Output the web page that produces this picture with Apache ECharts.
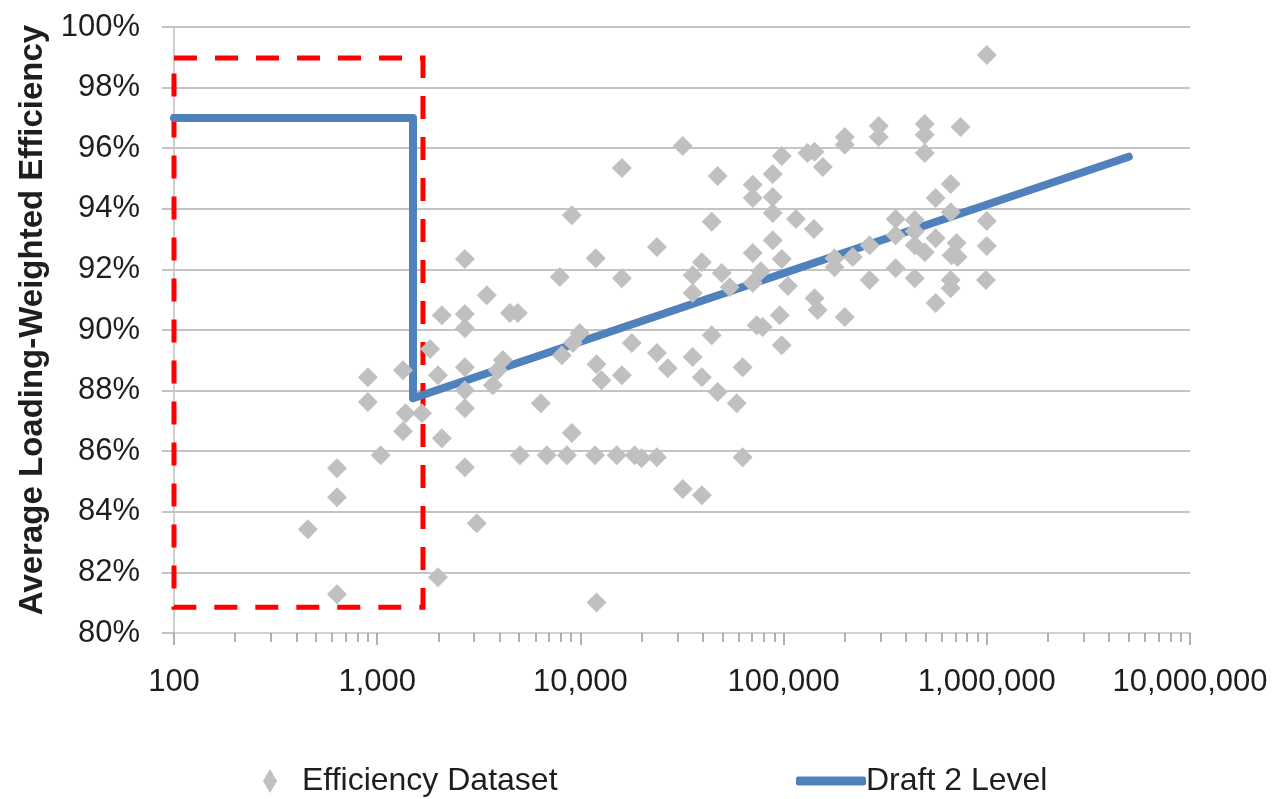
<!DOCTYPE html>
<html>
<head>
<meta charset="utf-8">
<script src="https://cdn.jsdelivr.net/npm/echarts@6/dist/echarts.min.js"></script>
<style>
html, body { margin: 0; padding: 0; background: #fff; }
#main { width: 1277px; height: 799px; }
</style>
</head>
<body>
<div id="main"></div>
<script>
// efficiency dataset: load (x, log scale) and average loading-weighted efficiency (%)
var effLoad = [
    456, 634, 634, 634, 900, 900, 1040, 1340, 1380, 1340,
    1660, 1820, 1990, 2080, 2080, 1990, 2700, 2700, 2700, 2700,
    2700, 2700, 2700, 3090, 3460, 3710, 3920, 4150, 4500, 4920,
    5040, 6390, 6830, 7920, 8100, 8580, 9070, 9070, 9180, 9930,
    11800, 11900, 12000, 12000, 12700, 15100, 16000, 16000, 16000, 17900,
    18500, 20000, 23800, 23800, 23800, 26900, 31900, 31900, 35700, 35700,
    35700, 39600, 39600, 39600, 44300, 44300, 47400, 47400, 49600, 54300,
    58800, 62900, 62900, 70500, 70500, 70500, 70500, 73700, 77200, 78900,
    88400, 88400, 88400, 88400, 95700, 97900, 97900, 97900, 105000, 115000,
    131000, 142000, 141000, 142000, 147000, 156000, 178000, 178000, 200000, 200000,
    200000, 219000, 265000, 265000, 294000, 294000, 356000, 356000, 356000, 442000,
    442000, 442000, 442000, 495000, 495000, 495000, 495000, 560000, 560000, 560000,
    664000, 664000, 671000, 710000, 718000, 664000, 664000, 743000, 1000000, 1000000,
    1000000, 990000
];
var effValue = [
    83.42, 85.44, 84.48, 81.28, 88.44, 87.62, 85.87, 88.67, 87.25, 86.66,
    87.25, 89.37, 88.51, 90.49, 86.43, 81.84, 92.34, 90.53, 90.06, 88.77,
    88.01, 87.42, 85.47, 83.62, 91.15, 88.18, 88.67, 89.01, 90.56, 90.56,
    85.87, 87.58, 85.87, 91.75, 89.17, 85.87, 93.79, 86.60, 89.57, 89.90,
    85.87, 92.37, 81.01, 88.87, 88.34, 85.87, 95.35, 91.71, 88.51, 89.57,
    85.87, 85.77, 92.74, 89.24, 85.80, 88.74, 96.07, 84.75, 91.81, 91.22,
    89.11, 92.24, 88.44, 84.55, 93.57, 89.83, 95.08, 87.95, 91.88, 91.41,
    87.58, 88.77, 85.80, 94.79, 94.36, 92.54, 91.55, 90.16, 91.94, 90.10,
    95.15, 94.39, 93.86, 92.96, 90.49, 95.74, 92.34, 89.50, 91.45, 93.66,
    95.84, 95.88, 93.33, 91.05, 90.66, 95.38, 92.37, 92.07, 96.37, 96.11,
    90.43, 92.41, 92.80, 91.65, 96.73, 96.37, 93.66, 93.13, 92.04, 93.63,
    93.26, 92.80, 91.71, 96.80, 96.44, 95.84, 92.57, 94.36, 93.03, 90.89,
    94.82, 93.89, 92.47, 92.87, 92.41, 91.65, 91.38, 96.70, 99.08, 93.60,
    92.77, 91.65
];

// Draft 2 level
var levelLoad = [100, 1500, 1500, 5000000];
var levelValue = [97.0, 97.0, 87.75, 95.72];

// red dashed box (load range, efficiency range)
var boxLoad = [95.6, 1680];
var boxValue = [80.85, 98.98];

// axis ticks
var decades = [100, 1000, 10000, 100000, 1000000, 10000000];
var minorTicks = [];
for (var i = 0; i < decades.length - 1; i++) {
    for (var k = 2; k <= 9; k++) minorTicks.push(decades[i] * k);
}

var FONT = 'Liberation Sans';
var gridColor = '#b0b0b0';
var textColor = '#1e1e1e';

var effData = effLoad.map(function (x, i) { return [x, effValue[i]]; });
var levelData = levelLoad.map(function (x, i) { return [x, levelValue[i]]; });

var myChart = echarts.init(document.getElementById('main'));
var option = {
    animation: false,
    textStyle: { fontFamily: FONT },
    grid: { left: 174, right: 87, top: 27, bottom: 166, containLabel: false },
    legend: [{
        data: ['Efficiency Dataset'],
        left: 258, top: 760,
        itemWidth: 14, itemHeight: 24,
        icon: 'diamond',
        textStyle: { fontSize: 32, color: textColor, fontFamily: FONT, padding: [0, 0, 0, 20] }
    }, {
        data: ['Draft 2 Level'],
        left: 791, top: 760,
        itemWidth: 70, itemHeight: 9,
        icon: 'roundRect',
        textStyle: { fontSize: 32, color: textColor, fontFamily: FONT, padding: [0, 0, 0, -5] }
    }],
    xAxis: [{
        type: 'log',
        logBase: 10,
        min: decades[0],
        max: decades[decades.length - 1],
        axisLine: { show: true, lineStyle: { color: '#cfcfcf', width: 2 } },
        axisTick: { show: true, length: 12, lineStyle: { color: '#999', width: 1.5 } },
        axisLabel: {
            fontSize: 31, color: textColor, margin: 34, fontFamily: FONT,
            formatter: function (v) { return Number(v).toLocaleString('en-US'); }
        },
        splitLine: { show: false }
    }, {
        type: 'log',
        logBase: 10,
        position: 'bottom',
        min: decades[0],
        max: decades[decades.length - 1],
        axisLine: { show: false },
        axisLabel: { show: false },
        axisTick: { show: true, length: 9, customValues: minorTicks, lineStyle: { color: '#999', width: 1.5 } },
        splitLine: { show: false }
    }],
    yAxis: {
        type: 'value',
        min: 80, max: 100, interval: 2,
        name: 'Average Loading-Weighted Efficiency',
        nameLocation: 'middle',
        nameRotate: 90,
        nameGap: 118,
        nameTextStyle: {
            fontSize: 33, fontWeight: 'bold', color: textColor, fontFamily: FONT,
            padding: [0, 0, 0, 20]
        },
        axisLine: { show: true, lineStyle: { color: '#cfcfcf', width: 2 } },
        axisTick: { show: true, length: 12, lineStyle: { color: gridColor, width: 1.5 } },
        axisLabel: { fontSize: 31, color: textColor, margin: 34, fontFamily: FONT, formatter: '{value}%' },
        splitLine: { show: true, lineStyle: { color: gridColor, width: 1.5 } }
    },
    series: [{
        name: 'Draft 2 Level',
        type: 'line',
        data: levelData,
        showSymbol: false,
        symbol: 'none',
        clip: false,
        z: 2,
        color: '#4f81bd',
        lineStyle: { color: '#4f81bd', width: 8, cap: 'round', join: 'round' },
        markArea: {
            silent: true,
            itemStyle: {
                color: 'rgba(0,0,0,0)',
                borderColor: '#ff0000',
                borderWidth: 5,
                borderType: [23, 18]
            },
            data: [[{ coord: [boxLoad[0], boxValue[1]] }, { coord: [boxLoad[1], boxValue[0]] }]]
        }
    }, {
        name: 'Efficiency Dataset',
        type: 'scatter',
        data: effData,
        symbol: 'diamond',
        symbolSize: 20,
        z: 3,
        itemStyle: { color: '#c0c0c0', opacity: 1 }
    }]
};
myChart.setOption(option);
</script>
</body>
</html>
